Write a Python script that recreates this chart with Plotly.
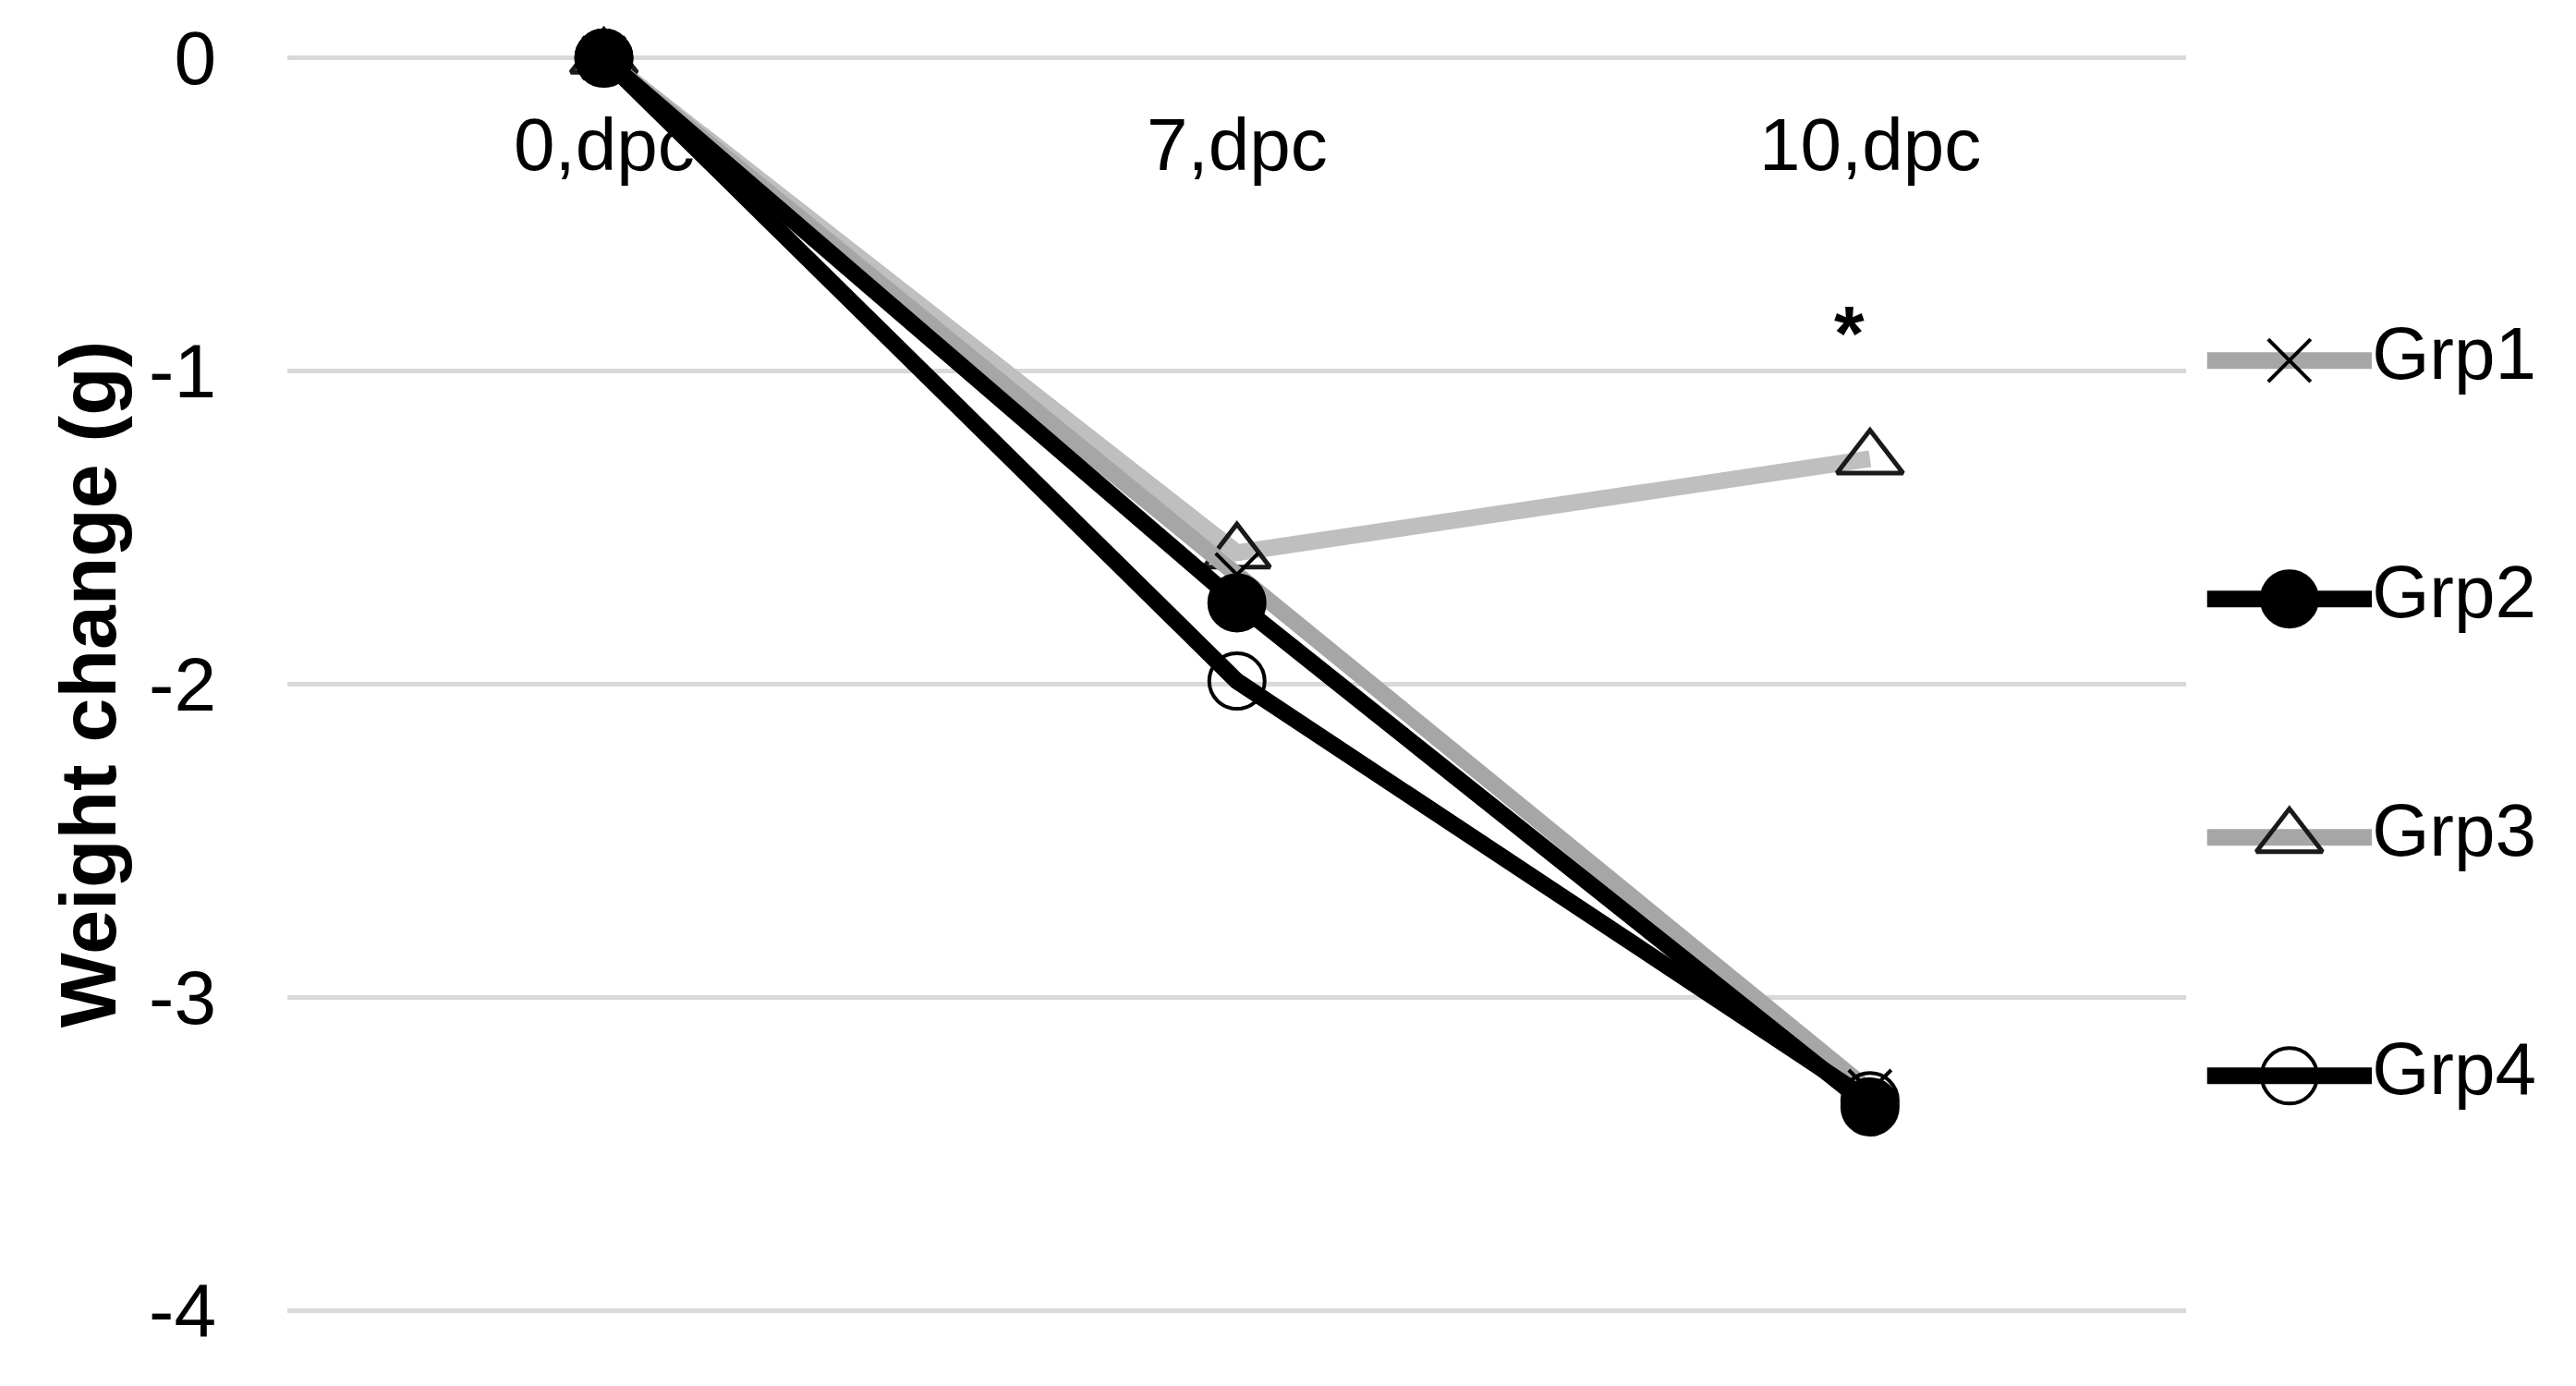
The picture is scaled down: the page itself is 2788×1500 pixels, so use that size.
import plotly.graph_objects as go

# weight change (g) per group
days = ['0,dpc', '7,dpc', '10,dpc']
grp1 = [0, -1.65, -3.30]
grp2 = [0, -1.74, -3.35]
grp3 = [0, -1.58, -1.28]
grp4 = [0, -1.99, -3.33]

y_ticks = [0, -1, -2, -3, -4]
y_tick_text = ['0', '-1', '-2', '-3', '-4']

star_day = '10,dpc'
star_y = -0.88

FONT = 'Liberation Sans, Arial, sans-serif'
GRAY = '#A6A6A6'
LIGHT = '#BFBFBF'

styles = {
    'Grp1': dict(y=grp1, color=GRAY, leg_color=GRAY,
                 marker=dict(symbol='x-thin-open', size=46, color='black',
                             line=dict(color='black', width=4))),
    'Grp2': dict(y=grp2, color='black', leg_color='black',
                 marker=dict(symbol='circle', size=62, color='black',
                             line=dict(color='black', width=2))),
    'Grp3': dict(y=grp3, color=LIGHT, leg_color=GRAY,
                 marker=dict(symbol='triangle-up-open', size=62, color='#1a1a1a',
                             line=dict(color='#1a1a1a', width=5))),
    'Grp4': dict(y=grp4, color='black', leg_color='black',
                 marker=dict(symbol='circle-open', size=60, color='black',
                             line=dict(color='black', width=4))),
}
draw_order = ['Grp3', 'Grp1', 'Grp4', 'Grp2']
legend_order = ['Grp1', 'Grp2', 'Grp3', 'Grp4']

fig = go.Figure()

for name in draw_order:
    s = styles[name]
    fig.add_trace(go.Scatter(
        x=days, y=s['y'], name=name, mode='lines+markers',
        line=dict(color=s['color'], width=18),
        marker=s['marker'], cliponaxis=False, showlegend=False,
    ))

# hand-made legend on its own axes so the line sample can be long
for name in legend_order:
    s = styles[name]
    fig.add_trace(go.Scatter(
        x=[0, 0.5, 1], y=[name] * 3, xaxis='x2', yaxis='y2',
        mode='lines', line=dict(color=s['leg_color'], width=18),
        showlegend=False, hoverinfo='skip',
    ))
    fig.add_trace(go.Scatter(
        x=[0.5], y=[name], xaxis='x2', yaxis='y2',
        mode='markers', marker=s['marker'], cliponaxis=False,
        showlegend=False, hoverinfo='skip',
    ))
    fig.add_trace(go.Scatter(
        x=[1], y=[name], xaxis='x2', yaxis='y2',
        mode='text', text=[name], textposition='middle right',
        textfont=dict(family=FONT, size=80, color='black'),
        cliponaxis=False, showlegend=False, hoverinfo='skip',
    ))

# category labels sit just under the zero line, like the Excel original
for d in days:
    fig.add_annotation(x=d, y=0, text=d, showarrow=False, yanchor='middle',
                       yshift=-94, font=dict(family=FONT, size=80, color='black'))

fig.add_annotation(x=star_day, y=star_y, text='<b>*</b>', showarrow=False,
                   xshift=-22, font=dict(family=FONT, size=84, color='black'))

fig.update_layout(
    width=2788, height=1500,
    margin=dict(l=303, r=38, t=48, b=83),
    paper_bgcolor='white', plot_bgcolor='white',
    font=dict(family=FONT, size=80, color='black'),
    showlegend=False,
    xaxis=dict(domain=[0, 0.8400], showticklabels=False, showgrid=False,
               zeroline=False, showline=False, ticks='', range=[-0.5, 2.5]),
    yaxis=dict(range=[-4.02, 0.02], tickvals=y_ticks, ticktext=y_tick_text,
               showgrid=True, gridcolor='#D9D9D9', gridwidth=5,
               zeroline=False, showline=False, ticks='', automargin=False,
               ticklabelstandoff=76, tickfont=dict(size=82, color='black'),
               title=dict(text='<b>Weight change (g)</b>', standoff=6,
                          font=dict(size=86, color='black'))),
    xaxis2=dict(domain=[0.8490, 0.9220], range=[0, 1], anchor='y2',
                visible=False),
    yaxis2=dict(domain=[0, 1], anchor='x2', type='category',
                categoryorder='array', categoryarray=legend_order,
                range=[4.01, -1.295], visible=False),
)

fig.write_html("out.html")
